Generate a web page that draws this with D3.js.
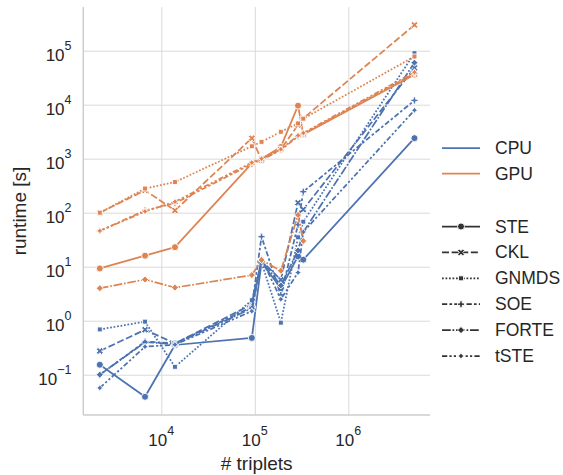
<!DOCTYPE html>
<html>
<head>
<meta charset="utf-8">
<script src="https://cdn.jsdelivr.net/npm/d3@7"></script>
<style>
  body { margin: 0; background: #fff; }
  text { font-family: Arial, "Liberation Sans", sans-serif; fill: #262626; }
</style>
</head>
<body>
<svg id="chart" width="563" height="475"></svg>
<script>
// Number of triplets per dataset (x positions)
const triplets = [2200, 6700, 14000, 93000, 118000, 190000, 290000, 330000, 5100000];

// Runtimes in seconds, CPU implementations
const cpuSTE   = [0.153, 0.039, 0.355, 0.48, 12, 4.0, 15.5, 13.5, 2400];
const cpuCKL   = [0.275, 0.68, 0.38, 2.0, 13, 5.7, 153, 115, 48000];
const cpuGNMDS = [0.69, 0.96, 0.14, 2.4, 12, 0.92, 35, 68, 90000];
const cpuSOE   = [0.10, 0.41, 0.38, 1.8, 36, 3.0, 60, 245, 12000];
const cpuFORTE = [0.10, 0.40, 0.37, 1.7, 13, 4.5, 20, 44, 60000];
const cpuTSTE  = [0.057, 0.33, 0.36, 1.5, 14, 2.5, 7.8, 44, 7900];

// Runtimes in seconds, GPU implementations
const gpuSTE   = [9.3, 16, 23, 820, 1000, 1650, 9600, 2800, 36000];
const gpuCKL   = [100, 260, 110, 2400, 950, 1500, 4200, 5600, 300000];
const gpuGNMDS = [100, 280, 370, 1700, 2050, 3150, 4500, 5500, 78000];
const gpuSOE   = [46, 110, 150, 800, 950, 1450, 2600, 2900, 38000];
const gpuFORTE = [4.0, 5.8, 4.1, 7.0, 13.3, 8.4, 91, 30, null];
const gpuTSTE  = [46, 105, 160, 850, 1000, 1500, 2700, 3000, 40000];

const devices = ["CPU", "GPU"];
const methods = ["STE", "CKL", "GNMDS", "SOE", "FORTE", "tSTE"];
const xTicks = [1e4, 1e5, 1e6];
const yTicks = [1e-1, 1e0, 1e1, 1e2, 1e3, 1e4, 1e5];

const runtimes = {
  CPU: [cpuSTE, cpuCKL, cpuGNMDS, cpuSOE, cpuFORTE, cpuTSTE],
  GPU: [gpuSTE, gpuCKL, gpuGNMDS, gpuSOE, gpuFORTE, gpuTSTE]
};

const deviceColor = { CPU: "#4c72b0", GPU: "#dd8452" };
const lw = 1.75;
const dashes = {
  STE: null,
  CKL: [4, 1.5],
  GNMDS: [1, 1],
  SOE: [3, 1.25, 1.5, 1.25],
  FORTE: [5, 1, 1, 1],
  tSTE: [3, 1.25, 1.25, 1.25, 1.25, 1.25]
};
const dashArray = m => dashes[m] ? dashes[m].map(v => (v * lw).toFixed(2)).join(",") : null;

// Marker shapes
const ms = 7;
function poly(pts) { return "M" + pts.map(p => p[0].toFixed(2) + "," + p[1].toFixed(2)).join("L") + "Z"; }
function markerPath(m) {
  const h = ms / 2;
  switch (m) {
    case "STE":
      return `M${h},0A${h},${h} 0 1,1 ${-h},0A${h},${h} 0 1,1 ${h},0Z`;
    case "CKL": {
      const p = [[-1,-2],[0,-1],[1,-2],[2,-1],[1,0],[2,1],[1,2],[0,1],[-1,2],[-2,1],[-1,0],[-2,-1]];
      return poly(p.map(([a,b]) => [a * ms / 4, b * ms / 4]));
    }
    case "GNMDS": {
      const r = h * Math.SQRT1_2;
      return poly([[-r,-r],[r,-r],[r,r],[-r,r]]);
    }
    case "SOE": {
      const p = [[-1,-3],[1,-3],[1,-1],[3,-1],[3,1],[1,1],[1,3],[-1,3],[-1,1],[-3,1],[-3,-1],[-1,-1]];
      return poly(p.map(([a,b]) => [a * ms / 6, b * ms / 6]));
    }
    case "FORTE":
      return poly([[0,-h],[h,0],[0,h],[-h,0]]);
    case "tSTE": {
      const pts = [];
      for (let i = 0; i < 8; i++) {
        const r = i % 2 === 0 ? h : h * 0.5;
        const a = -Math.PI / 2 + i * Math.PI / 4;
        pts.push([r * Math.cos(a), r * Math.sin(a)]);
      }
      return poly(pts);
    }
  }
}

const svg = d3.select("#chart");
svg.append("rect").attr("width", 563).attr("height", 475).attr("fill", "#fff");

const plotLeft = 83.3, plotRight = 430, plotTop = 7, plotBottom = 415;
const x = d3.scaleLog().domain([Math.pow(10, 3.1658), Math.pow(10, 6.8738)]).range([plotLeft, plotRight]);
const y = d3.scaleLog().domain([Math.pow(10, -1.746), Math.pow(10, 5.809)]).range([plotBottom, plotTop]);

// Grid lines
const gx = svg.append("g").attr("transform", `translate(0,${plotBottom})`)
  .call(d3.axisBottom(x).tickValues(xTicks).tickSize(-(plotBottom - plotTop)).tickFormat(""));
const gy = svg.append("g").attr("transform", `translate(${plotLeft},0)`)
  .call(d3.axisLeft(y).tickValues(yTicks).tickSize(-(plotRight - plotLeft)).tickFormat(""));
[gx, gy].forEach(g => {
  g.select(".domain").remove();
  g.selectAll(".tick line").attr("stroke", "#d9d9d9").attr("stroke-width", 1);
});

// Left and bottom spines
svg.append("line").attr("x1", plotLeft).attr("x2", plotLeft).attr("y1", plotTop).attr("y2", plotBottom)
  .attr("stroke", "#cccccc").attr("stroke-width", 1.4);
svg.append("line").attr("x1", plotLeft).attr("x2", plotRight).attr("y1", plotBottom).attr("y2", plotBottom)
  .attr("stroke", "#cccccc").attr("stroke-width", 1.4);

// Power-of-ten tick labels
function powLabel(sel, v) {
  const e = Math.round(Math.log10(v));
  sel.append("tspan").text("10");
  sel.append("tspan").attr("font-size", 12.5).attr("dy", -11).text(String(e).replace("-", "\u2212"));
}
xTicks.forEach(v => {
  const t = svg.append("text").attr("x", x(v)).attr("y", 446).attr("text-anchor", "middle").attr("font-size", 17);
  powLabel(t, v);
});
yTicks.forEach(v => {
  const t = svg.append("text").attr("x", 71.5).attr("y", y(v) + 10).attr("text-anchor", "end").attr("font-size", 17);
  powLabel(t, v);
});

// Axis titles
svg.append("text").attr("x", (plotLeft + plotRight) / 2).attr("y", 470).attr("text-anchor", "middle")
  .attr("font-size", 19).text("# triplets");
svg.append("text").attr("transform", `translate(26,${(plotTop + plotBottom) / 2}) rotate(-90)`)
  .attr("text-anchor", "middle").attr("font-size", 19).text("runtime [s]");

// Series
const line = d3.line()
  .defined(d => d.v != null)
  .x(d => x(d.t))
  .y(d => y(d.v));

const plot = svg.append("g");
devices.forEach(dev => {
  methods.forEach((m, mi) => {
    const pts = triplets.map((t, i) => ({ t, v: runtimes[dev][mi][i] }));
    const g = plot.append("g");
    g.append("path").datum(pts)
      .attr("d", line)
      .attr("fill", "none")
      .attr("stroke", deviceColor[dev])
      .attr("stroke-width", lw)
      .attr("stroke-dasharray", dashArray(m))
      .attr("stroke-linejoin", "round");
    g.selectAll("path.mk").data(pts.filter(d => d.v != null)).join("path")
      .attr("class", "mk")
      .attr("d", markerPath(m))
      .attr("transform", d => `translate(${x(d.t)},${y(d.v)})`)
      .attr("fill", deviceColor[dev])
      .attr("stroke", "#fff")
      .attr("stroke-width", 0.9);
  });
});

// Legend
const lg = svg.append("g");
const lx0 = 442, lx1 = 480, tx = 495;
devices.forEach((dev, i) => {
  const yy = 148 + i * 25.5;
  lg.append("line").attr("x1", lx0).attr("x2", lx1).attr("y1", yy).attr("y2", yy)
    .attr("stroke", deviceColor[dev]).attr("stroke-width", lw);
  lg.append("text").attr("x", tx).attr("y", yy + 6).attr("font-size", 17.5).text(dev);
});
methods.forEach((m, i) => {
  const yy = 226.5 + i * 25.9;
  lg.append("line").attr("x1", lx0).attr("x2", lx1).attr("y1", yy).attr("y2", yy)
    .attr("stroke", "#333333").attr("stroke-width", lw).attr("stroke-dasharray", dashArray(m));
  lg.append("path").attr("d", markerPath(m)).attr("transform", `translate(${(lx0 + lx1) / 2},${yy})`)
    .attr("fill", "#333333").attr("stroke", "#fff").attr("stroke-width", 0.9);
  lg.append("text").attr("x", tx).attr("y", yy + 6).attr("font-size", 17.5).text(m);
});
</script>
</body>
</html>
